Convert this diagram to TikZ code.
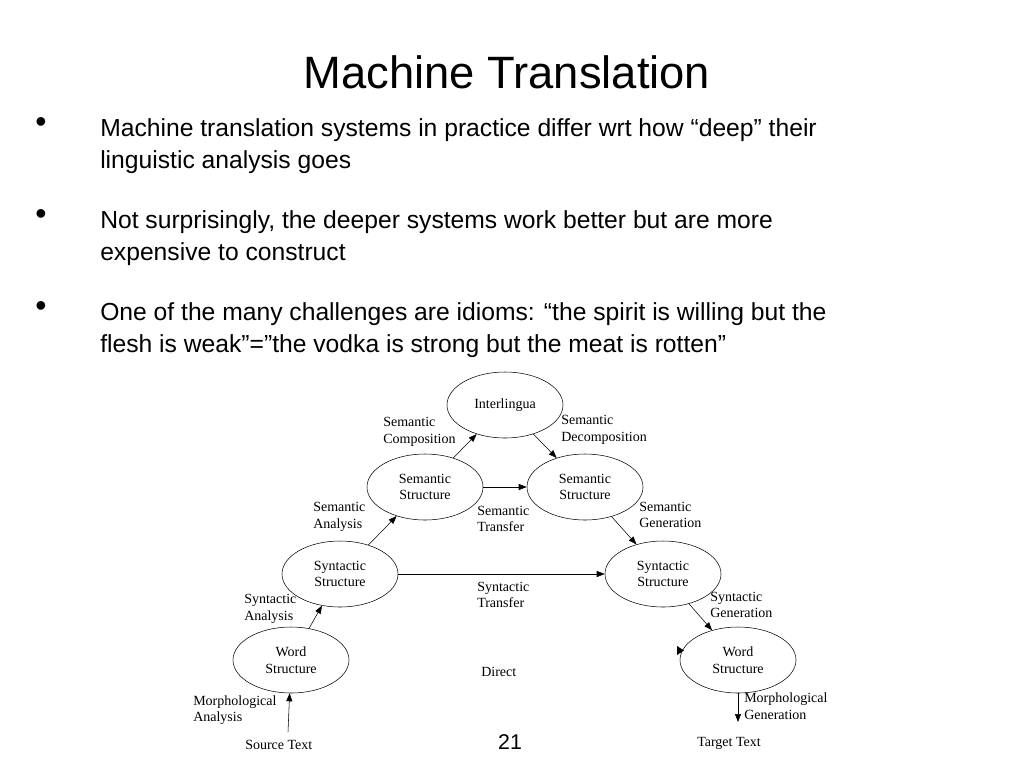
\documentclass[tikz,border=0pt]{standalone}
\usepackage{fontspec}
\setmainfont{Liberation Serif}
\newfontfamily\slide{Liberation Sans}
\usetikzlibrary{arrows.meta,shapes.geometric}
\begin{document}
\begin{tikzpicture}[x=0.75pt,y=-0.75pt,
  el/.style={draw,ellipse,minimum width=116pt*0.75,minimum height=66pt*0.75,inner sep=0pt,align=center,font=\fontsize{10.5}{12.5}\selectfont},
  lab/.style={align=left,anchor=west,font=\fontsize{10.5}{12.5}\selectfont,inner sep=0pt},
  bl/.style={anchor=north west,align=left,font=\slide\fontsize{18.5}{24.5}\selectfont,inner sep=0pt},
  ar/.style={-{Triangle[length=6pt,width=4.5pt]},thin}]
\useasboundingbox[fill=white] (0,0) rectangle (1024,768);
\node (title) at (507,72) {\slide\fontsize{34}{40}\selectfont Machine Translation};
\foreach \y/\n in {125/b1,217/b2,309/b3}{\node (\n) at (41,\y) {\slide\fontsize{24}{24}\selectfont •};}
\node[bl] (t1) at (100,118) {Machine translation systems in practice differ wrt how “deep” their\\linguistic analysis goes};
\node[bl] (t2) at (100,210) {Not surprisingly, the deeper systems work better but are more\\expensive to construct};
\node[bl] (t3) at (100,302) {One of the many challenges are idioms: “the spirit is willing but the\\flesh is weak”=”the vodka is strong but the meat is rotten”};
\node[el] (il) at (505,405) {Interlingua};
\node[el] (sml) at (425,487) {Semantic\\Structure};
\node[el] (smr) at (585,487) {Semantic\\Structure};
\node[el] (syl) at (340,574) {Syntactic\\Structure};
\node[el] (syr) at (663,574) {Syntactic\\Structure};
\node[el] (wl) at (291,660) {Word\\Structure};
\node[el] (wr) at (738,660) {Word\\Structure};
\node[lab] (l1) at (383,432) {Semantic\\Composition};
\node[lab] (l2) at (561,430) {Semantic\\Decomposition};
\node[lab] (l3) at (313,517) {Semantic\\Analysis};
\node[lab] (l4) at (477,519) {Semantic\\Transfer};
\node[lab] (l5) at (639,515) {Semantic\\Generation};
\node[lab] (l6) at (477,595) {Syntactic\\Transfer};
\node[lab] (l7) at (244,609) {Syntactic\\Analysis};
\node[lab] (l8) at (710,605) {Syntactic\\Generation};
\node[lab] (l9) at (481,672) {Direct};
\node[lab] (l10) at (193,710) {Morphological\\Analysis};
\node[lab] (l11) at (744,706) {Morphological\\Generation};
\node[lab] (src) at (245,745) {Source Text};
\node[lab] (tgt) at (697,743) {Target Text};
\node (pg) at (510,742) {\slide\fontsize{16}{18}\selectfont 21};
\coordinate (s0) at (288,732);
\coordinate (t0) at (738,722);
\draw[ar] (s0) -- (wl);
\draw[ar] (wl) -- (syl);
\draw[ar] (syl) -- (sml);
\draw[ar] (sml) -- (il);
\draw[ar] (il) -- (smr);
\draw[ar] (sml) -- (smr);
\draw[ar] (smr) -- (syr);
\draw[ar] (syl) -- (syr);
\draw[ar] (syr) -- (wr);
\draw[ar] (wr) -- (t0);
\coordinate (st) at (677,646);
\fill (st) -- ++(7,4.5) -- ++(-7,4.5) -- cycle;
\end{tikzpicture}
\end{document}
